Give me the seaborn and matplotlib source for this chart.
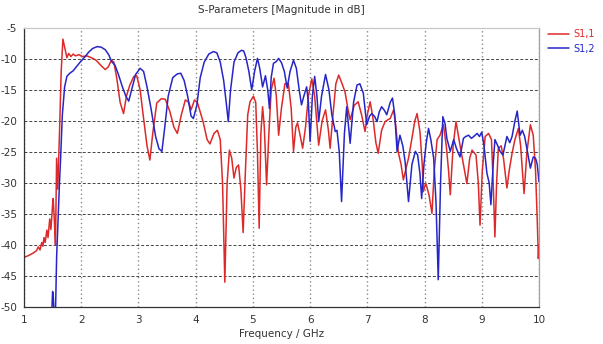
import numpy as np
import pandas as pd
import seaborn as sns
import matplotlib
matplotlib.use("Agg")
import matplotlib.pyplot as plt

# ---------------- data ----------------
s11_freq = [1.00, 1.08, 1.16, 1.22, 1.25, 1.28, 1.31, 1.33, 1.35, 1.37, 1.40, 1.42, 1.45, 1.47,
            1.50, 1.51, 1.53, 1.55, 1.57, 1.59, 1.62, 1.65, 1.68, 1.72, 1.75, 1.78, 1.82, 1.86,
            1.90, 1.96, 2.02, 2.10, 2.18, 2.26, 2.34, 2.42, 2.47, 2.53, 2.57, 2.62, 2.68, 2.74,
            2.79, 2.85, 2.92, 2.97, 3.03, 3.09, 3.15, 3.20, 3.25, 3.32, 3.40, 3.47, 3.55, 3.62,
            3.68, 3.75, 3.82, 3.88, 3.92, 3.98, 4.03, 4.13, 4.20, 4.25, 4.32, 4.38, 4.43, 4.47,
            4.51, 4.55, 4.59, 4.63, 4.67, 4.71, 4.75, 4.79, 4.83, 4.87, 4.91, 4.95, 5.01, 5.05,
            5.08, 5.11, 5.14, 5.17, 5.20, 5.24, 5.28, 5.32, 5.37, 5.41, 5.45, 5.50, 5.56, 5.62,
            5.67, 5.71, 5.75, 5.78, 5.83, 5.87, 5.92, 5.97, 6.03, 6.08, 6.15, 6.21, 6.27, 6.32,
            6.35, 6.40, 6.45, 6.50, 6.56, 6.61, 6.66, 6.70, 6.77, 6.84, 6.90, 6.96, 7.00, 7.05,
            7.10, 7.15, 7.19, 7.25, 7.31, 7.36, 7.40, 7.46, 7.50, 7.54, 7.59, 7.63, 7.68, 7.72,
            7.78, 7.83, 7.87, 7.92, 7.96, 7.98, 8.02, 8.04, 8.08, 8.13, 8.17, 8.22, 8.27, 8.33,
            8.38, 8.42, 8.45, 8.50, 8.55, 8.62, 8.68, 8.74, 8.79, 8.83, 8.90, 8.94, 8.97, 9.01,
            9.06, 9.12, 9.17, 9.20, 9.23, 9.26, 9.29, 9.34, 9.38, 9.44, 9.48, 9.53, 9.58, 9.64,
            9.68, 9.71, 9.74, 9.79, 9.85, 9.90, 9.94, 9.97, 9.99, 10.00]
s11_db = [-42.0, -41.7, -41.3, -40.9, -40.3, -40.8, -39.6, -40.2, -38.8, -39.6, -37.6, -38.8, -35.8, -37.5,
          -33.5, -32.5, -36.0, -40.0, -26.0, -31.0, -22.0, -12.0, -6.8, -8.5, -9.8, -9.1, -9.6, -9.2,
          -9.5, -9.3, -9.6, -9.5, -9.8, -10.2, -11.0, -11.7, -11.3, -10.2, -10.5, -13.0, -17.0, -18.8,
          -16.0, -14.2, -12.8, -12.7, -15.0, -19.6, -24.0, -26.3, -22.0, -17.1, -16.4, -16.5, -18.5, -21.0,
          -22.0, -19.0, -16.6, -17.0, -18.2, -16.6, -17.0, -20.1, -23.0, -23.7, -22.0, -21.5, -23.0, -30.0,
          -46.0, -30.0, -24.7, -26.0, -29.2, -27.5, -27.1, -31.0, -38.0, -28.0, -19.0, -16.9, -16.0, -17.0,
          -25.0, -37.3, -22.0, -17.7, -21.0, -30.3, -22.0, -15.0, -13.1, -16.0, -22.3, -17.9, -14.0, -13.9,
          -18.0, -24.9, -21.0, -20.3, -22.5, -24.4, -21.0, -16.0, -13.2, -16.0, -23.9, -20.0, -18.2, -21.5,
          -24.4, -19.0, -14.0, -12.6, -14.0, -15.3, -18.0, -19.8, -17.5, -16.9, -19.0, -21.7, -19.0, -16.9,
          -19.6, -23.5, -25.2, -21.5, -20.1, -19.8, -19.6, -18.2, -21.0, -25.0, -27.0, -29.5, -27.5, -26.0,
          -22.8, -20.0, -18.8, -21.7, -27.0, -31.4, -30.0, -30.6, -32.0, -34.9, -28.0, -23.0, -22.3, -20.6,
          -24.0, -28.0, -31.9, -24.0, -20.1, -23.9, -27.0, -30.1, -26.0, -24.7, -25.5, -30.0, -36.8, -28.0,
          -22.5, -22.0, -23.0, -30.0, -38.7, -30.0, -24.4, -24.0, -26.0, -30.8, -28.0, -25.2, -23.0, -21.2,
          -24.0, -28.0, -31.7, -25.0, -20.6, -22.3, -28.0, -36.0, -42.2, -40.0]

s12_freq = [1.48, 1.50, 1.51, 1.53, 1.55, 1.57, 1.60, 1.62, 1.64, 1.67, 1.71, 1.75, 1.80, 1.86,
            1.92, 2.00, 2.07, 2.13, 2.20, 2.28, 2.35, 2.42, 2.48, 2.53, 2.59, 2.65, 2.72, 2.78,
            2.83, 2.88, 2.95, 3.03, 3.09, 3.15, 3.22, 3.30, 3.36, 3.41, 3.46, 3.52, 3.60, 3.68,
            3.74, 3.80, 3.86, 3.92, 3.96, 4.02, 4.08, 4.15, 4.23, 4.31, 4.37, 4.43, 4.49, 4.54,
            4.57, 4.61, 4.67, 4.74, 4.80, 4.84, 4.88, 4.93, 4.98, 5.03, 5.08, 5.12, 5.17, 5.22,
            5.26, 5.29, 5.32, 5.36, 5.41, 5.45, 5.50, 5.55, 5.60, 5.65, 5.71, 5.76, 5.81, 5.85,
            5.89, 5.94, 5.97, 6.00, 6.04, 6.08, 6.12, 6.15, 6.20, 6.27, 6.33, 6.38, 6.44, 6.47,
            6.51, 6.55, 6.60, 6.64, 6.70, 6.76, 6.82, 6.87, 6.93, 6.99, 7.04, 7.08, 7.13, 7.17,
            7.21, 7.25, 7.30, 7.34, 7.40, 7.44, 7.48, 7.52, 7.57, 7.62, 7.66, 7.72, 7.78, 7.84,
            7.88, 7.92, 7.95, 7.99, 8.03, 8.07, 8.11, 8.16, 8.20, 8.24, 8.28, 8.32, 8.36, 8.39,
            8.45, 8.51, 8.56, 8.62, 8.68, 8.72, 8.77, 8.82, 8.86, 8.92, 8.96, 9.00, 9.04, 9.09,
            9.13, 9.16, 9.20, 9.23, 9.28, 9.32, 9.37, 9.44, 9.49, 9.53, 9.58, 9.62, 9.67, 9.71,
            9.75, 9.80, 9.85, 9.90, 9.94, 9.97, 10.00]
s12_db = [-52.0, -47.5, -48.0, -52.0, -51.0, -42.0, -34.6, -30.0, -26.0, -19.0, -14.5, -12.8, -12.3, -11.9,
          -11.2, -10.3, -9.6, -8.9, -8.3, -8.0, -8.1, -8.5, -9.3, -10.4, -11.0, -12.5, -14.5, -16.0,
          -16.8, -15.0, -12.5, -11.5, -12.0, -14.5, -18.0, -22.5, -24.5, -24.9, -21.0, -16.0, -13.0, -12.4,
          -12.3, -13.5, -16.0, -19.2, -19.6, -17.5, -13.0, -10.5, -9.2, -8.8, -9.0, -10.5, -13.5, -17.5,
          -20.1, -15.0, -10.5, -9.0, -8.6, -8.7, -9.8, -12.0, -15.0, -12.0, -9.9, -11.5, -14.5, -12.7,
          -15.0, -18.0, -13.0, -10.7, -10.4, -9.9, -10.6, -12.0, -14.7, -12.0, -10.2, -11.5, -15.0, -17.4,
          -16.0, -14.5, -17.0, -23.3, -16.0, -12.8, -16.0, -20.1, -16.0, -12.5, -15.0, -19.0, -21.7, -21.5,
          -25.0, -33.0, -22.0, -17.7, -23.6, -17.0, -14.2, -14.0, -15.5, -20.6, -19.2, -18.8, -19.3, -20.1,
          -18.5, -17.7, -18.3, -19.0, -17.0, -16.3, -19.0, -24.9, -22.3, -24.0, -26.5, -33.0, -27.0, -24.9,
          -25.5, -28.5, -32.5, -27.0, -23.5, -21.2, -23.0, -26.0, -33.0, -45.6, -30.0, -19.3, -20.5, -22.8,
          -24.9, -23.0, -24.5, -25.8, -22.8, -22.5, -22.3, -22.8, -22.5, -22.0, -22.5, -21.8, -24.0, -28.4,
          -30.0, -33.5, -27.0, -23.0, -24.0, -24.9, -25.5, -22.5, -23.5, -22.5, -20.0, -18.4, -22.3, -21.5,
          -22.5, -25.0, -27.6, -25.8, -26.0, -27.0, -29.8]

series_names = ["S1,1", "S1,2"]
x_ticks = [1, 2, 3, 4, 5, 6, 7, 8, 9, 10]
y_ticks = [-50, -45, -40, -35, -30, -25, -20, -15, -10, -5]

# ---------------- figure ----------------
sns.set_theme(style="white")
plt.rcParams["font.family"] = ["DejaVu Sans"]

df = pd.concat([
    pd.DataFrame({"Frequency": s11_freq, "dB": s11_db, "Series": series_names[0]}),
    pd.DataFrame({"Frequency": s12_freq, "dB": s12_db, "Series": series_names[1]}),
], ignore_index=True)

colors = {"S1,1": "#dc2a2a", "S1,2": "#2626c8"}

fig = plt.figure(figsize=(6.03, 3.44), dpi=100)
ax = fig.add_axes([0.0398, 0.1076, 0.854, 0.811])

sns.lineplot(data=df, x="Frequency", y="dB", hue="Series", palette=colors,
             linewidth=1.1, sort=False, estimator=None, ax=ax, legend=False)

ax.set_xlim(1, 10)
ax.set_ylim(-50, -5)
ax.set_xticks(x_ticks)
ax.set_yticks(y_ticks)
ax.set_xticklabels([str(t) for t in x_ticks])
ax.set_yticklabels([str(t) for t in y_ticks])
ax.tick_params(axis="both", labelsize=7.5, colors="#333333", length=3, width=0.8, pad=2,
               direction="out")
ax.tick_params(axis="x", pad=3)

# grid: horizontal dashed, vertical dotted
ax.yaxis.grid(True, linestyle=(0, (3, 2)), color="#444444", linewidth=0.7)
ax.xaxis.grid(True, linestyle=(0, (1, 2)), color="#8a8a8a", linewidth=1.0)
ax.set_axisbelow(True)

for side in ["left", "bottom"]:
    ax.spines[side].set_color("#333333")
    ax.spines[side].set_linewidth(0.9)
for side in ["right", "top"]:
    ax.spines[side].set_color("#a0a0a0")
    ax.spines[side].set_linewidth(0.9)
ax.spines["top"].set_color("#c8c8c8")

ax.set_xlabel("Frequency / GHz", fontsize=7.5, color="#333333", labelpad=3)
ax.set_ylabel("")
fig.text(0.4668, 0.972, "S-Parameters [Magnitude in dB]", fontsize=7.5,
         color="#333333", ha="center", va="center")

# legend outside to the right
handles = [plt.Line2D([], [], color=colors[n], linewidth=1.1) for n in series_names]
leg = fig.legend(handles, series_names, loc="upper left", bbox_to_anchor=(0.909, 0.915),
                 frameon=False, fontsize=7, handlelength=2.1, handletextpad=0.45,
                 labelspacing=0.45, borderaxespad=0, borderpad=0)
for txt, n in zip(leg.get_texts(), series_names):
    txt.set_color(colors[n])

fig.savefig("out.png", dpi=100)
